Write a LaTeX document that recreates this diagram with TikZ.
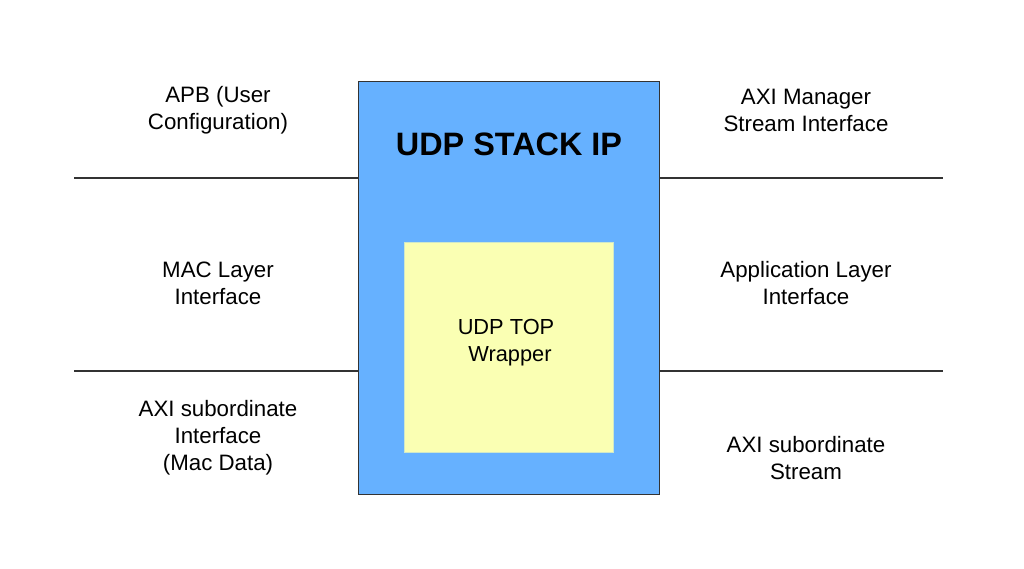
\documentclass[tikz,border=0pt]{standalone}
\usepackage{fontspec}
\setmainfont{Liberation Sans}
\definecolor{outerblue}{HTML}{66B1FF}
\definecolor{inneryellow}{HTML}{FAFFB3}
\definecolor{edgegrey}{HTML}{333333}
\begin{document}
\begin{tikzpicture}[x=1pt,y=-1pt,
  lbl/.style={align=center,font=\fontsize{22.3}{27}\selectfont,inner sep=0pt},
  sepline/.style={draw=edgegrey,line width=1.6pt}]
\useasboundingbox (0,0) rectangle (1024,568);
\node[draw=edgegrey,line width=1pt,fill=outerblue,minimum width=301pt,minimum height=413pt,inner sep=0pt] (outer) at (508.5,287.5) {};
\node[fill=inneryellow,draw=inneryellow!70!outerblue,line width=0.6pt,minimum width=209pt,minimum height=210pt,inner sep=0pt] (inner) at (508.5,347) {};
\node[font=\fontsize{32.4}{38}\selectfont\bfseries,inner sep=0pt] (title) at (509,144) {UDP STACK IP};
\node[lbl,font=\fontsize{21.8}{27}\selectfont] (wrap) at (506,342.5) {UDP TOP\\ \hspace{8pt}Wrapper};
% separator lines
\coordinate (l1) at (74,178);
\coordinate (l2) at (74,371);
\coordinate (r1) at (943,178);
\coordinate (r2) at (943,371);
\draw[sepline] (l1) -- (l1 -| outer.west);
\draw[sepline] (l2) -- (l2 -| outer.west);
\draw[sepline] (outer.east |- r1) -- (r1);
\draw[sepline] (outer.east |- r2) -- (r2);
% left labels
\node[lbl] (apb) at (218,110.5) {APB (User\\Configuration)};
\node[lbl] (mac) at (218,283.5) {MAC Layer\\Interface};
\node[lbl] (axis) at (218,438) {AXI subordinate\\Interface\\(Mac Data)};
% right labels
\node[lbl] (axim) at (806,110.5) {AXI Manager\\Stream Interface};
\node[lbl] (app) at (806,283.5) {Application Layer\\Interface};
\node[lbl] (axiss) at (806,458.5) {AXI subordinate\\Stream};
\end{tikzpicture}
\end{document}
